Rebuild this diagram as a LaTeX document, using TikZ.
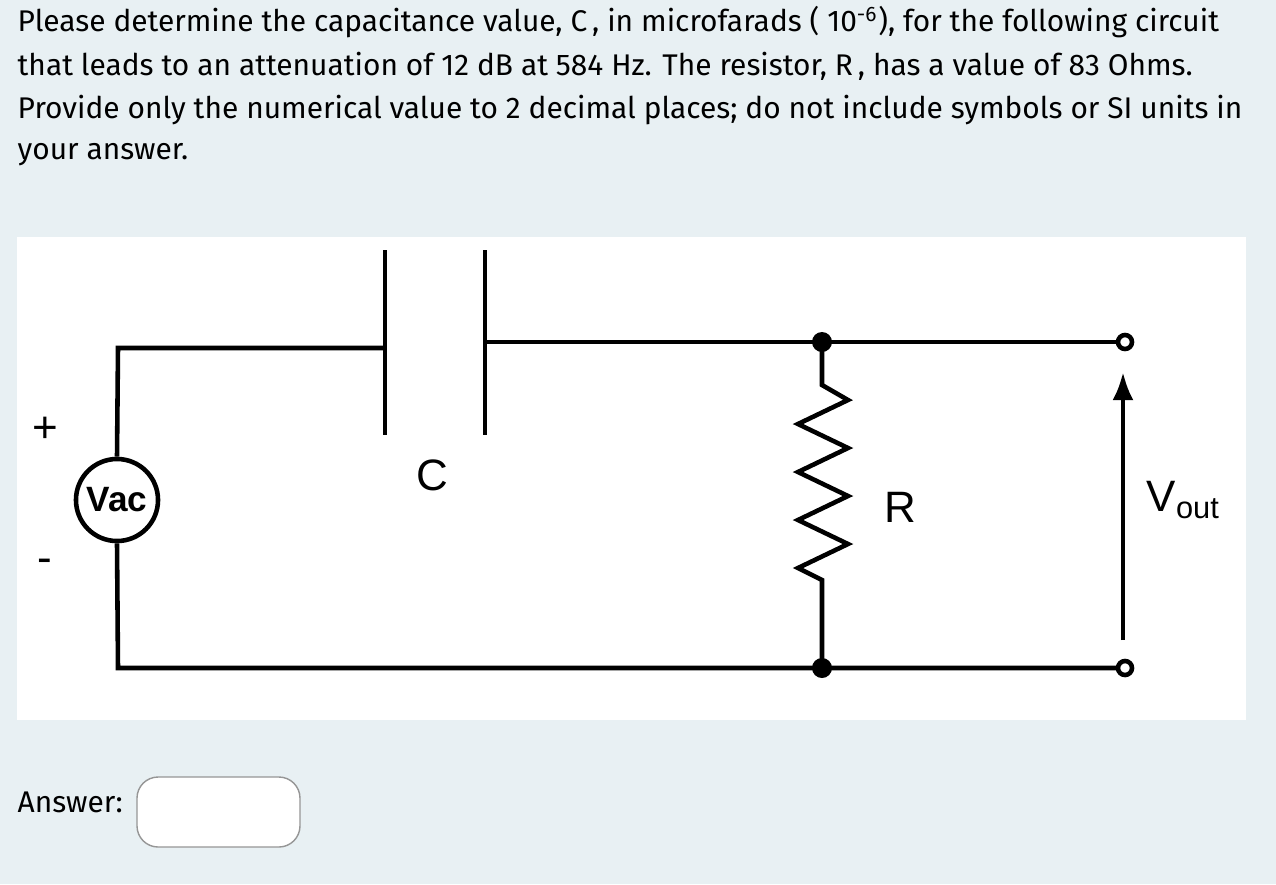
\documentclass[tikz,border=0pt]{standalone}
\usepackage{fontspec}
\usetikzlibrary{arrows.meta}
\setmainfont{Fira Sans}
\newfontfamily\arial{Liberation Sans}
\begin{document}
\begin{tikzpicture}[x=0.01cm,y=-0.01cm,
  wire/.style={line width=1.3pt},
  txt/.style={anchor=west,inner sep=0,font=\fontsize{8.5}{10}\selectfont},
  lab/.style={inner sep=0,font=\arial\fontsize{12.5}{14}\selectfont}]
\fill[fill={rgb,255:red,232;green,240;blue,243}] (0,0) rectangle (1276,884);
\useasboundingbox (0,0) rectangle (1276,884);
\fill[white] (17,237) rectangle (1246,720);
\node[txt] (l1) at (17,22) {Please determine the capacitance value, C\,, in microfarads ( 10\textsuperscript{-6}), for the following circuit};
\node[txt] (l2) at (17,66) {that leads to an attenuation of 12 dB at 584 Hz. The resistor, R\,, has a value of 83 Ohms.};
\node[txt] (l3) at (17,110) {Provide only the numerical value to 2 decimal places; do not include symbols or SI units in};
\node[txt] (l4) at (17,155) {your answer.};
\node[txt] (ans) at (17,802) {Answer:};
\draw[rounded corners=6pt,draw={rgb,255:red,150;green,150;blue,150},fill=white] (137,777) rectangle (300,847);
% circuit
\node[circle,draw,line width=1.3pt,inner sep=0,minimum size=0.82cm,font=\arial\bfseries\fontsize{10}{12}\selectfont] (vac) at (117,500) {Vac};
\coordinate (tl) at (118,348);
\coordinate (bl) at (118,668);
\coordinate (cp1) at (385,348);
\coordinate (cp2) at (485,342);
\coordinate (nt) at (822,342);
\coordinate (nb) at (822,668);
\coordinate (ot) at (1118,342);
\coordinate (ob) at (1118,668);
\draw[wire] (vac.north) -- (tl) -- (cp1);
\draw[wire] (385,250) -- (385,435);
\draw[wire] (485,250) -- (485,435);
\draw[wire] (cp2) -- (nt) -- (ot);
\draw[wire] (vac.south) -- (bl) -- (nb) -- (ob);
\draw[wire] (nt) -- (822,385) -- (848,400) -- (798,424) -- (848,448) -- (798,472) -- (848,496) -- (798,520) -- (848,544) -- (798,568) -- (822,580) -- (nb);
\fill (nt) circle (10);
\fill (nb) circle (10);
\draw[line width=1.3pt] (1125,342) circle (7);
\draw[line width=1.3pt] (1125,668) circle (7);
\draw[line width=1.3pt,-{Latex[length=8pt,width=6pt]}] (1123,640) -- (1123,372);
\node[lab] (plus) at (45,430) {+};
\node[lab] (minus) at (45,566) {-};
\node[lab] (c) at (432,475) {C};
\node[lab] (r) at (900,507) {R};
\node[lab,anchor=west] (vout) at (1146,500) {V\textsubscript{out}};
\end{tikzpicture}
\end{document}
